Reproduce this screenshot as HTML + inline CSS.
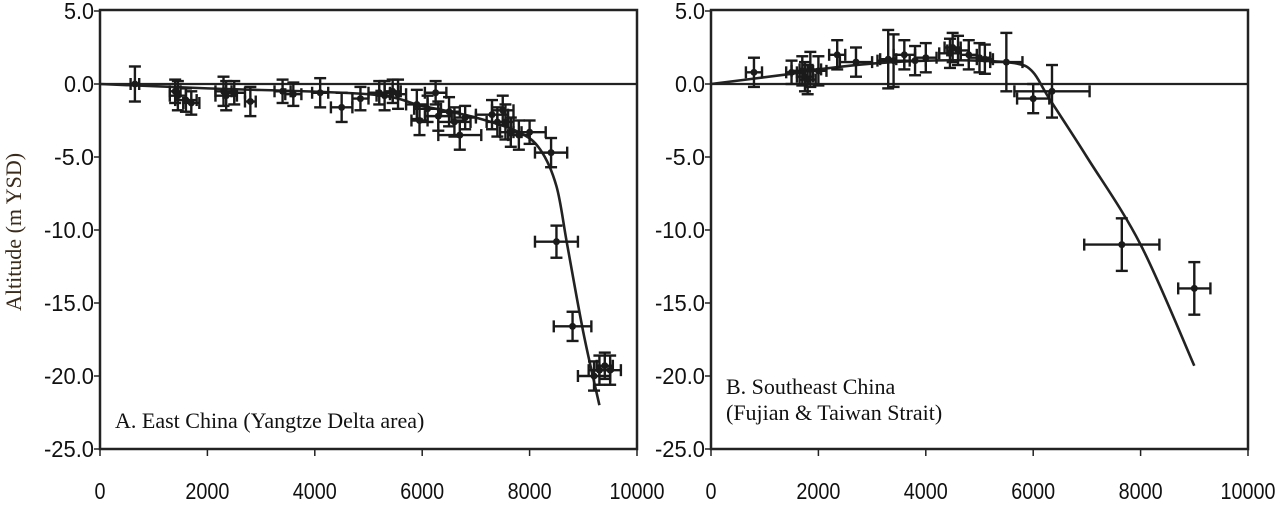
<!DOCTYPE html>
<html><head><meta charset="utf-8"><style>body{margin:0;background:#fff}svg{display:block}</style></head>
<body>
<svg id="chart" width="1277" height="514" xmlns="http://www.w3.org/2000/svg"></svg>
<script>
const yTicks=[5,0,-5,-10,-15,-20,-25];
const yTickLabels=["5.0","0.0","-5.0","-10.0","-15.0","-20.0","-25.0"];
const xTicks=[0,2000,4000,6000,8000,10000];
const ageA=[650,1400,1450,1600,1700,2300,2350,2500,2800,3400,3600,4100,4500,4850,5200,5300,5450,5550,5900,5950,6100,6250,6300,6500,6600,6700,6800,7300,7400,7500,7550,7650,7800,8000,8400,8500,8800,9200,9300,9400,9500];
const altA=[0,-0.5,-0.8,-1.1,-1.3,-0.5,-0.8,-0.6,-1.2,-0.5,-0.7,-0.6,-1.6,-1,-0.6,-0.8,-0.5,-0.7,-1.4,-2.5,-1.7,-0.6,-2.2,-1.9,-2.6,-3.5,-2.3,-2.1,-2.6,-1.8,-2.6,-3.3,-3.5,-3.3,-4.7,-10.8,-16.6,-20,-19.6,-19.3,-19.6];
const xerrA=[80,100,150,200,150,150,200,200,100,150,150,150,200,150,200,150,150,150,200,150,250,200,250,200,300,400,200,300,200,200,150,200,200,300,300,400,350,300,200,150,200];
const yerrA=[1.2,0.8,1,0.8,0.8,1,1,0.8,1,0.8,0.8,1,1,0.8,0.8,1,0.8,1,1,1,0.9,0.8,1,1,1,1,0.8,1,1,1,1.2,1,1,0.8,1,1.1,1,1,1,0.9,1];
const curveAgeA=[0,2000,5000,6000,7000,7800,8200,8500,8700,9000,9300];
const curveAltA=[0,-0.3,-0.7,-1.5,-2.3,-3.3,-4.5,-7,-11,-17,-22];
const ageB=[800,1500,1700,1750,1800,1850,2000,2350,2700,3300,3400,3600,3800,4000,4450,4500,4600,4800,5000,5100,5500,6000,6350,7650,9000];
const altB=[0.8,0.8,0.9,0.5,0.3,1.0,0.9,2,1.5,1.7,1.6,2,1.6,1.8,2.1,2.5,2.3,2.0,1.8,1.7,1.5,-1,-0.5,-11,-14];
const xerrB=[150,100,200,150,150,200,150,150,300,150,300,200,200,200,200,150,200,150,200,150,300,300,700,700,300];
const yerrB=[1,0.8,1,1,1,1.2,1,1,1,2,1.8,1,1,1,1,1,1,1,1,1,2,1,1.8,1.8,1.8];
const curveAgeB=[0,1500,2000,3000,4000,5000,5700,6000,6300,7000,8000,9000];
const curveAltB=[0,0.7,1.0,1.4,1.6,1.6,1.4,0.8,-1,-5,-11,-19.3];

const svg=document.getElementById('chart');
const NS="http://www.w3.org/2000/svg";
function mk(tag,attrs,parent){const e=document.createElementNS(NS,tag);for(const k in attrs)e.setAttribute(k,attrs[k]);(parent||svg).appendChild(e);return e;}
const Y=v=>11+(5-v)/30*438;
function smooth(p){let d='M'+p[0][0]+','+p[0][1];for(let i=0;i<p.length-1;i++){const p0=p[i-1]||p[i],p1=p[i],p2=p[i+1],p3=p[i+2]||p2;const c1=[p1[0]+(p2[0]-p0[0])/6,p1[1]+(p2[1]-p0[1])/6],c2=[p2[0]-(p3[0]-p1[0])/6,p2[1]-(p3[1]-p1[1])/6];d+=' C'+c1+' '+c2+' '+p2;}return d;}

function panel(id,x0,ages,alts,xe,ye,cAge,cAlt,labels,labelY){
  const X=v=>x0+v/10000*537;
  const g=mk('g',{});
  
  
  const fr=mk('rect',{x:x0,y:10,width:537,height:439,fill:'none',stroke:'#222','stroke-width':2.5},g);
  
  
  const zl=mk('line',{x1:x0,x2:x0+537,y1:Y(0),y2:Y(0),stroke:'#222','stroke-width':2.2},g);
  
  
  yTicks.forEach((t,i)=>{
    mk('line',{x1:x0-6,x2:x0,y1:Y(t),y2:Y(t),stroke:'#222','stroke-width':1.5},g);
    const tx=mk('text',{x:x0-6,y:Y(t)+8,'text-anchor':'end','font-size':23,'font-family':'Liberation Sans Narrow, Liberation Sans, sans-serif',fill:'#111',textLength:yTickLabels[i].length*10,lengthAdjust:'spacingAndGlyphs'},g);
    tx.textContent=yTickLabels[i];
    
    
  });
  xTicks.forEach(t=>{
    mk('line',{x1:X(t),x2:X(t),y1:449,y2:456,stroke:'#222','stroke-width':1.5},g);
    const s=String(t);
    const tx=mk('text',{x:X(t),y:499,'text-anchor':'middle','font-size':23,'font-family':'Liberation Sans Narrow, Liberation Sans, sans-serif',fill:'#111',textLength:s.length*11,lengthAdjust:'spacingAndGlyphs'},g);
    tx.textContent=s;
    
    
  });
  const pts=cAge.map((a,i)=>[X(a),Y(cAlt[i])]);
  const cl=mk('path',{d:smooth(pts),fill:'none',stroke:'#222','stroke-width':2.6,'stroke-linejoin':'round'},g);
  
  
  ages.forEach((a,i)=>{
    const pg=mk('g',{stroke:'#1a1a1a','stroke-width':2.4,fill:'#1a1a1a'},g);
    
    
    const cx=X(a),cy=Y(alts[i]),xl=X(a-xe[i]),xr=X(a+xe[i]),yt=Y(alts[i]+ye[i]),yb=Y(alts[i]-ye[i]);
    mk('line',{x1:xl,x2:xr,y1:cy,y2:cy},pg);
    mk('line',{x1:xl,x2:xl,y1:cy-6,y2:cy+6},pg);
    mk('line',{x1:xr,x2:xr,y1:cy-6,y2:cy+6},pg);
    mk('line',{x1:cx,x2:cx,y1:yt,y2:yb},pg);
    mk('line',{x1:cx-6,x2:cx+6,y1:yt,y2:yt},pg);
    mk('line',{x1:cx-6,x2:cx+6,y1:yb,y2:yb},pg);
    mk('circle',{cx:cx,cy:cy,r:3.5,stroke:'none'},pg);
  });
  labels.forEach((l,i)=>{
    const tx=mk('text',{x:x0+15,y:labelY+i*26,'font-size':22,'font-family':'Liberation Serif, serif',fill:'#111'},g);
    tx.textContent=l;
    
    
  });
}
panel('a',100,ageA,altA,xerrA,yerrA,curveAgeA,curveAltA,["A. East China (Yangtze Delta area)"],428);
panel('b',711,ageB,altB,xerrB,yerrB,curveAgeB,curveAltB,["B. Southeast China","(Fujian & Taiwan Strait)"],394);
const yl=mk('text',{x:0,y:0,transform:'translate(21,232) rotate(-90)','text-anchor':'middle','font-size':22,'font-family':'Liberation Serif, serif',fill:'#3a2a1a'});
yl.textContent="Altitude (m YSD)";


</script>
</body></html>
